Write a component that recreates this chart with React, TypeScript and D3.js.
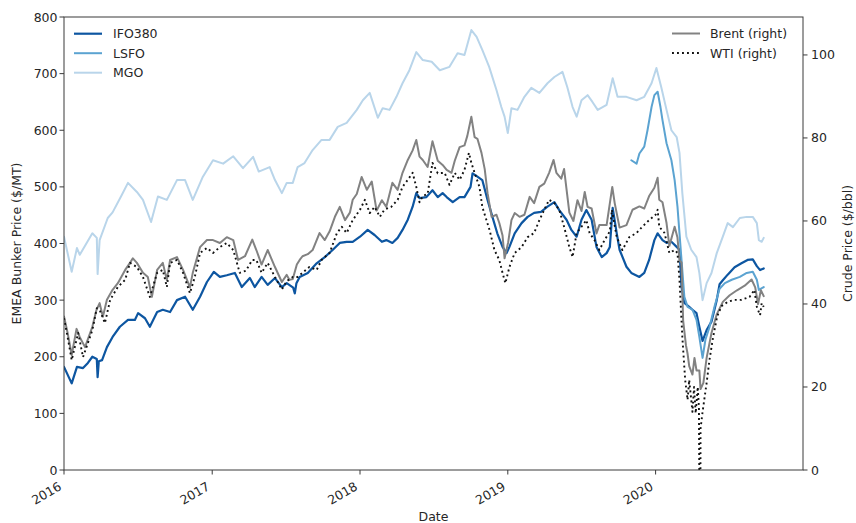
import React from "react";
import * as d3 from "d3";

type Pt = [string, number];

const IFO380: Pt[] = [
  ["2016-01-01",182],["2016-01-20",153],["2016-02-02",182],["2016-02-17",180],["2016-02-29",189],["2016-03-11",200],["2016-03-22",196],["2016-03-24",164],["2016-03-27",192],["2016-04-04",194],["2016-04-16",217],["2016-04-30",235],["2016-05-18",253],["2016-06-07",265],["2016-06-24",265],["2016-07-02",277],["2016-07-19",268],["2016-07-31",253],["2016-08-18",279],["2016-09-01",283],["2016-09-19",279],["2016-10-06",300],["2016-10-26",306],["2016-11-14",283],["2016-12-02",306],["2016-12-19",332],
  ["2017-01-05",350],["2017-01-20",341],["2017-02-06",344],["2017-02-26",348],["2017-03-15",323],["2017-04-04",339],["2017-04-16",323],["2017-05-03",341],["2017-05-18",327],["2017-06-05",339],["2017-06-22",323],["2017-07-04",330],["2017-07-20",322],["2017-07-24",312],["2017-07-28",330],["2017-08-05",341],["2017-08-25",348],["2017-09-16",365],["2017-10-06",376],["2017-10-26",389],["2017-11-12",401],["2017-11-29",403],["2017-12-14",403],
  ["2018-01-01",412],["2018-01-20",424],["2018-02-06",415],["2018-02-24",403],["2018-03-07",406],["2018-03-22",401],["2018-04-04",410],["2018-04-16",424],["2018-04-29",442],["2018-05-11",465],["2018-05-20",489],["2018-05-28",480],["2018-06-14",482],["2018-06-29",494],["2018-07-12",482],["2018-07-24",489],["2018-08-03",482],["2018-08-18",473],["2018-09-04",482],["2018-09-16",482],["2018-10-01",500],["2018-10-06",524],["2018-10-18",518],["2018-10-30",512],["2018-11-12",477],["2018-11-24",447],["2018-12-06",418],["2018-12-19",394],["2018-12-29",383],
  ["2019-01-05",394],["2019-01-18",418],["2019-02-04",436],["2019-02-19",447],["2019-03-07",454],["2019-03-24",456],["2019-04-09",465],["2019-04-26",473],["2019-05-08",459],["2019-05-26",442],["2019-06-07",424],["2019-06-20",412],["2019-07-02",442],["2019-07-14",459],["2019-07-27",442],["2019-08-08",394],["2019-08-21",376],["2019-09-02",383],["2019-09-10",394],["2019-09-17",463],["2019-09-27",418],["2019-10-04",389],["2019-10-21",359],["2019-11-02",348],["2019-11-22",341],["2019-12-04",348],["2019-12-16",371],["2019-12-29",406],
  ["2020-01-06",418],["2020-01-18",406],["2020-01-28",401],["2020-02-09",403],["2020-02-22",394],["2020-02-29",389],["2020-03-05",323],["2020-03-12",295],["2020-03-24",288],["2020-04-01",283],["2020-04-11",277],["2020-04-18",253],["2020-04-26",228],["2020-05-06",247],["2020-05-18",262],["2020-05-31",300],["2020-06-07",328],["2020-06-15",335],["2020-06-27",345],["2020-07-14",358],["2020-07-31",365],["2020-08-15",371],["2020-08-28",372],["2020-09-07",360],["2020-09-15",353],["2020-09-24",356],
];

const LSFO: Pt[] = [
  ["2019-11-02",547],["2019-11-15",541],["2019-11-22",559],["2019-12-04",571],["2019-12-12",600],["2019-12-22",641],["2019-12-29",662],
  ["2020-01-06",668],["2020-01-13",641],["2020-01-18",618],["2020-01-28",577],["2020-02-09",547],["2020-02-17",512],["2020-02-24",465],["2020-02-29",418],["2020-03-05",371],["2020-03-12",306],["2020-03-20",288],["2020-04-01",283],["2020-04-11",265],["2020-04-18",235],["2020-04-26",198],["2020-05-03",230],["2020-05-13",252],["2020-05-26",290],["2020-06-07",320],["2020-06-20",330],["2020-07-07",336],["2020-07-27",341],["2020-08-13",348],["2020-08-28",350],["2020-09-07",336],["2020-09-12",318],["2020-09-24",323],
];

const MGO: Pt[] = [
  ["2016-01-01",412],["2016-01-20",350],["2016-02-02",392],["2016-02-09",380],["2016-03-11",418],["2016-03-22",410],["2016-03-24",346],["2016-03-29",406],["2016-04-18",445],["2016-04-30",455],["2016-05-23",486],["2016-06-07",507],["2016-06-29",491],["2016-07-14",477],["2016-08-03",438],["2016-08-20",483],["2016-09-11",477],["2016-10-06",512],["2016-10-26",512],["2016-11-14",477],["2016-12-09",518],
  ["2017-01-03",547],["2017-01-28",541],["2017-02-22",554],["2017-03-18",533],["2017-04-12",553],["2017-04-26",527],["2017-05-23",535],["2017-06-05",512],["2017-06-22",489],["2017-07-04",507],["2017-07-19",507],["2017-07-31",535],["2017-08-17",542],["2017-09-06",565],["2017-09-28",583],["2017-10-18",583],["2017-11-07",606],["2017-11-29",613],["2017-12-24",636],
  ["2018-01-08",653],["2018-01-25",666],["2018-02-14",622],["2018-02-26",639],["2018-03-15",636],["2018-04-01",659],["2018-04-16",683],["2018-05-03",706],["2018-05-20",738],["2018-06-05",724],["2018-06-27",721],["2018-07-17",706],["2018-08-10",712],["2018-08-30",736],["2018-09-16",733],["2018-10-03",777],["2018-10-16",765],["2018-10-30",742],["2018-11-16",712],["2018-12-04",671],["2018-12-16",641],["2018-12-24",624],
  ["2019-01-01",595],["2019-01-10",639],["2019-01-25",636],["2019-02-11",659],["2019-02-28",675],["2019-03-20",666],["2019-04-09",683],["2019-04-26",694],["2019-05-16",703],["2019-05-28",676],["2019-06-10",641],["2019-06-20",624],["2019-07-02",653],["2019-07-17",662],["2019-07-29",650],["2019-08-11",636],["2019-09-02",645],["2019-09-17",692],["2019-09-29",659],["2019-10-21",659],["2019-11-15",653],["2019-12-04",659],["2019-12-22",683],
  ["2020-01-03",710],["2020-01-15",676],["2020-01-28",636],["2020-02-09",600],["2020-02-22",588],["2020-02-29",560],["2020-03-07",489],["2020-03-17",412],["2020-03-29",389],["2020-04-11",376],["2020-04-18",348],["2020-04-26",300],["2020-05-06",330],["2020-05-18",348],["2020-05-31",383],["2020-06-15",412],["2020-06-27",436],["2020-07-10",429],["2020-07-27",445],["2020-08-13",447],["2020-08-28",447],["2020-09-07",436],["2020-09-12",406],["2020-09-19",403],["2020-09-24",410],
];

const BRENT: Pt[] = [
  ["2016-01-01",37],["2016-01-10",33],["2016-01-20",27.7],["2016-02-01",34],["2016-02-09",32],["2016-02-22",29.6],["2016-03-11",34.5],["2016-03-21",38.5],["2016-03-29",40.2],["2016-04-06",36.9],["2016-04-16",41],["2016-04-30",43.4],["2016-05-13",45],["2016-05-31",48.2],["2016-06-12",49.9],["2016-06-19",51],["2016-06-29",49.9],["2016-07-14",47.5],["2016-07-26",46.5],["2016-08-05",41.7],["2016-08-18",48.2],["2016-09-01",49.9],["2016-09-11",45.8],["2016-09-19",50.6],["2016-10-06",51.3],["2016-10-21",48.2],["2016-11-07",44],["2016-11-14",47.5],["2016-12-02",53.7],["2016-12-19",55.4],
  ["2017-01-03",55.4],["2017-01-20",54.7],["2017-02-06",56.1],["2017-02-22",55.4],["2017-03-06",50.6],["2017-03-23",51.5],["2017-04-10",55.5],["2017-04-20",53],["2017-05-03",49.5],["2017-05-18",53],["2017-06-05",48.9],["2017-06-22",45.3],["2017-07-04",47],["2017-07-11",45.8],["2017-07-19",46],["2017-07-29",49.5],["2017-08-05",50.6],["2017-08-12",51.5],["2017-08-25",52],["2017-09-06",53],["2017-09-23",57.1],["2017-10-06",55.4],["2017-10-18",57.5],["2017-10-31",61],["2017-11-12",63.4],["2017-11-25",60.2],["2017-12-07",62],["2017-12-14",65.1],["2017-12-24",66.5],
  ["2018-01-05",70.6],["2018-01-18",67.5],["2018-01-30",69.5],["2018-02-11",62.5],["2018-02-24",65],["2018-03-07",63.4],["2018-03-22",69.2],["2018-04-04",67.5],["2018-04-16",71.6],["2018-04-29",74.7],["2018-05-11",77],["2018-05-20",79.5],["2018-05-28",75.5],["2018-06-05",74.7],["2018-06-17",73],["2018-06-29",79.2],["2018-07-12",74.5],["2018-07-24",73.5],["2018-08-03",72.3],["2018-08-15",71.6],["2018-08-23",74.5],["2018-09-04",77.8],["2018-09-16",78.2],["2018-09-23",80.5],["2018-10-03",85.1],["2018-10-11",80.2],["2018-10-18",79.8],["2018-10-28",76.4],["2018-11-05",72.5],["2018-11-12",66.7],["2018-11-22",61],["2018-12-04",61.5],["2018-12-11",59.5],["2018-12-19",56.5],["2018-12-24",51],
  ["2019-01-02",54.9],["2019-01-10",60.2],["2019-01-18",61.9],["2019-01-30",61],["2019-02-11",61.5],["2019-02-24",65.8],["2019-03-07",64.3],["2019-03-20",68.2],["2019-04-01",69],["2019-04-13",71.6],["2019-04-24",74.7],["2019-05-01",71.6],["2019-05-13",70.2],["2019-05-20",72.5],["2019-06-02",62],["2019-06-12",60],["2019-06-22",65],["2019-07-02",62.4],["2019-07-10",67],["2019-07-17",63.4],["2019-07-27",63],["2019-08-08",57],["2019-08-15",59],["2019-09-02",59],["2019-09-16",68.2],["2019-09-22",64.3],["2019-10-04",58.4],["2019-10-21",59],["2019-11-05",62.7],["2019-11-22",63.5],["2019-12-04",63],["2019-12-16",66],["2019-12-29",68],
  ["2020-01-06",70.4],["2020-01-10",65.1],["2020-01-18",64.5],["2020-01-28",59.5],["2020-02-04",54],["2020-02-17",58.6],["2020-02-24",56],["2020-02-29",50.5],["2020-03-05",50],["2020-03-09",36],["2020-03-16",30],["2020-03-20",28],["2020-03-24",25],["2020-04-01",23],["2020-04-06",27],["2020-04-11",24],["2020-04-18",24],["2020-04-21",19.5],["2020-04-28",21],["2020-05-06",27],["2020-05-18",33],["2020-05-31",37.5],["2020-06-15",40.5],["2020-07-02",42.1],["2020-07-20",43.3],["2020-08-08",44.4],["2020-08-25",45.9],["2020-09-03",44],["2020-09-10",40],["2020-09-17",43.3],["2020-09-24",41.9],
];

const WTI: Pt[] = [
  ["2016-01-01",36.6],["2016-01-10",32],["2016-01-20",26.5],["2016-02-05",33],["2016-02-17",27.2],["2016-02-29",30.6],["2016-03-11",33.7],["2016-03-22",39],["2016-03-29",38.6],["2016-04-11",35.4],["2016-04-24",41],["2016-05-13",44.1],["2016-05-31",45.8],["2016-06-12",49.9],["2016-06-29",48.9],["2016-07-14",46.5],["2016-07-31",41.7],["2016-08-18",47.5],["2016-09-01",48.2],["2016-09-11",44.1],["2016-09-19",49.9],["2016-10-06",50.6],["2016-10-21",47.5],["2016-11-07",42.6],["2016-11-19",46.5],["2016-12-02",52.3],["2016-12-19",53.5],
  ["2017-01-03",52.3],["2017-01-20",53.7],["2017-02-06",54.7],["2017-02-22",53],["2017-03-10",47.5],["2017-03-25",48],["2017-04-10",50.6],["2017-04-20",50.6],["2017-05-03",47.5],["2017-05-18",49.9],["2017-06-05",46.5],["2017-06-22",43.5],["2017-07-04",45.5],["2017-07-19",46.5],["2017-07-31",46.5],["2017-08-12",47.5],["2017-08-29",48.9],["2017-09-16",48.2],["2017-09-28",50.6],["2017-10-18",52.3],["2017-11-05",57.1],["2017-11-17",58.6],["2017-11-29",57.1],["2017-12-14",60.2],
  ["2018-01-01",62.7],["2018-01-13",65.1],["2018-01-25",61.9],["2018-02-06",63.4],["2018-02-19",61],["2018-03-02",62.7],["2018-03-19",63.4],["2018-04-04",65.1],["2018-04-16",68.2],["2018-04-29",69.9],["2018-05-11",71.6],["2018-05-20",68.2],["2018-05-28",64.5],["2018-06-05",66],["2018-06-17",66.5],["2018-06-29",74],["2018-07-12",71.5],["2018-07-29",71.6],["2018-08-10",68.7],["2018-08-23",71.6],["2018-09-04",69.9],["2018-09-16",72.3],["2018-09-27",76.4],["2018-10-03",74],["2018-10-11",71.6],["2018-10-23",68.2],["2018-10-30",63.4],["2018-11-17",57.8],["2018-11-29",53],["2018-12-11",50.6],["2018-12-19",47.5],["2018-12-26",45],
  ["2019-01-05",48.9],["2019-01-18",52.3],["2019-02-04",53.7],["2019-02-19",56.1],["2019-03-07",57.1],["2019-03-20",60.2],["2019-04-01",62.7],["2019-04-13",65.1],["2019-04-26",64.3],["2019-05-08",62.7],["2019-05-20",58.6],["2019-06-02",53.7],["2019-06-10",51.3],["2019-06-20",57.1],["2019-07-02",58.6],["2019-07-14",60.2],["2019-07-22",57.1],["2019-08-03",55.4],["2019-08-15",53],["2019-08-28",55.4],["2019-09-10",57.5],["2019-09-15",62.7],["2019-09-27",56.1],["2019-10-11",53],["2019-10-28",56.1],["2019-11-15",57.1],["2019-11-29",58.6],["2019-12-16",60.2],
  ["2020-01-01",61.5],["2020-01-06",62.7],["2020-01-10",58.6],["2020-01-23",57.1],["2020-02-04",52.3],["2020-02-17",53],["2020-02-24",52.3],["2020-02-29",45.8],["2020-03-07",32],["2020-03-14",21.7],["2020-03-20",16.9],["2020-03-24",21.7],["2020-04-01",14],["2020-04-05",20],["2020-04-09",13.7],["2020-04-14",20],["2020-04-17",15.2],["2020-04-20",-37.6],["2020-04-21",10],["2020-04-26",14],["2020-05-06",21],["2020-05-13",26.5],["2020-05-22",32],["2020-06-01",37],["2020-06-12",39.5],["2020-06-27",40.5],["2020-07-14",41],["2020-07-31",41],["2020-08-20",41.7],["2020-09-01",43.4],["2020-09-07",39.3],["2020-09-15",37.3],["2020-09-19",40.2],["2020-09-24",39.3],
];

const LEFT_TICKS = [0, 100, 200, 300, 400, 500, 600, 700, 800];
const RIGHT_TICKS = [0, 20, 40, 60, 80, 100];
const BBL_PER_MT = 7.33;

const FONT = "'DejaVu Sans', sans-serif";
const FS = 12.5;
const TXT = "#262626";
const AX = "#3a3a3a";

const parse = d3.utcParse("%Y-%m-%d");

export default function App() {
  const L = 64, R = 803, T = 17, B = 470;
  const x = d3.scaleUtc().domain([parse("2016-01-01")!, parse("2020-12-30")!]).range([L, R]);
  const yL = d3.scaleLinear().domain([0, 800]).range([B, T]);
  const yR = d3.scaleLinear().domain([0, 800 / BBL_PER_MT]).range([B, T]);
  const mk = (ys: d3.ScaleLinear<number, number>) =>
    d3.line<Pt>().x((d) => x(parse(d[0])!)).y((d) => ys(d[1]));
  const lineL = mk(yL);
  const lineR = mk(yR);
  const yearTicks = x.ticks(d3.utcYear.every(1)!).filter((d) => x(d) <= R);

  const leftSeries = [
    { name: "IFO380", data: IFO380, color: "#0d56a1", w: 2.2 },
    { name: "LSFO", data: LSFO, color: "#5ba3d1", w: 2 },
    { name: "MGO", data: MGO, color: "#b9d5ea", w: 2 },
  ];

  return (
    <svg width={856} height={523} style={{ position: "fixed", left: 0, top: 0, background: "#fff" }} fontFamily={FONT} fontSize={FS}>
      <defs>
        <clipPath id="plot"><rect x={L} y={T} width={R - L} height={B - T} /></clipPath>
      </defs>
      <rect x={0} y={0} width={856} height={523} fill="#fff" />
      <g clipPath="url(#plot)" fill="none" strokeLinejoin="round" strokeLinecap="round">
        {leftSeries.map((s) => (
          <path key={s.name} d={lineL(s.data)!} stroke={s.color} strokeWidth={s.w} />
        ))}
        <path d={lineR(BRENT)!} stroke="#828282" strokeWidth={2} />
        <path d={lineR(WTI)!} stroke="#111" strokeWidth={1.9} strokeDasharray="1.9,3.1" strokeLinecap="butt" />
      </g>
      <rect x={L} y={T} width={R - L} height={B - T} fill="none" stroke={AX} strokeWidth={1} />
      {LEFT_TICKS.map((t) => (
        <g key={"l" + t}>
          <line x1={L - 4.5} x2={L} y1={yL(t)} y2={yL(t)} stroke={AX} />
          <text x={L - 6.5} y={yL(t)} dy="0.36em" textAnchor="end" fill={TXT}>{t}</text>
        </g>
      ))}
      {RIGHT_TICKS.map((t) => (
        <g key={"r" + t}>
          <line x1={R} x2={R + 4.5} y1={yR(t)} y2={yR(t)} stroke={AX} />
          <text x={R + 8} y={yR(t)} dy="0.36em" textAnchor="start" fill={TXT}>{t}</text>
        </g>
      ))}
      {yearTicks.map((d) => (
        <g key={"x" + d.getUTCFullYear()}>
          <line x1={x(d)} x2={x(d)} y1={B} y2={B + 4.5} stroke={AX} />
          <text transform={`translate(${x(d) - 1.5},${489}) rotate(-30)`} textAnchor="end" fill={TXT}>
            {d3.utcFormat("%Y")(d)}
          </text>
        </g>
      ))}
      <text x={(L + R) / 2} y={521} textAnchor="middle" fill={TXT}>Date</text>
      <text transform={`translate(21,${(T + B) / 2}) rotate(-90)`} textAnchor="middle" fill={TXT}>EMEA Bunker Price ($/MT)</text>
      <text transform={`translate(852,${(T + B) / 2}) rotate(-90)`} textAnchor="middle" fill={TXT}>Crude Price ($/bbl)</text>
      {leftSeries.map((s, i) => (
        <g key={"lg" + s.name}>
          <line x1={74} x2={102} y1={33.7 + i * 19.5} y2={33.7 + i * 19.5} stroke={s.color} strokeWidth={s.w} />
          <text x={113} y={33.7 + i * 19.5} dy="0.36em" fill={TXT}>{s.name}</text>
        </g>
      ))}
      <line x1={672} x2={700} y1={33.5} y2={33.5} stroke="#828282" strokeWidth={2} />
      <text x={710} y={33.5} dy="0.36em" fill={TXT}>Brent (right)</text>
      <line x1={672} x2={700} y1={53} y2={53} stroke="#111" strokeWidth={1.9} strokeDasharray="1.9,3.1" />
      <text x={710} y={53} dy="0.36em" fill={TXT}>WTI (right)</text>
    </svg>
  );
}
